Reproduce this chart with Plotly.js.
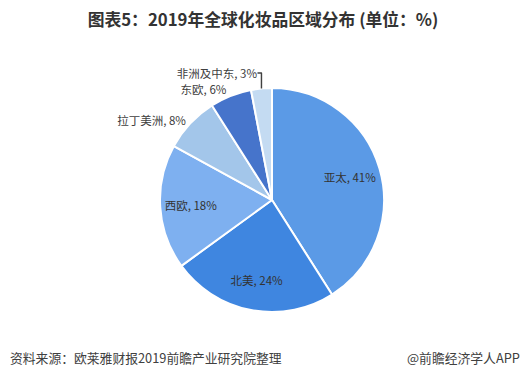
<!DOCTYPE html>
<html><head><meta charset="utf-8">
<script src="https://cdn.plot.ly/plotly-3.0.1.min.js"></script>
<style>body{margin:0;padding:0;background:#fff}#chart{width:526px;height:379px}</style>
</head><body><div id="chart"></div>
<script>
var regions = ["亚太", "北美", "西欧", "拉丁美洲", "东欧", "非洲及中东"];
var shares = [41, 24, 18, 8, 6, 3];
var colors = ["#5b9ae6", "#3f86e0", "#7eb0f0", "#a3c6ea", "#4674cb", "#c4dbf2"];
var outerPos = ["none", "none", "none", "outside", "outside", "outside"];
var innerPos = ["inside", "inside", "inside", "none", "none", "none"];
var titleText = "图表5：2019年全球化妆品区域分布 (单位：%)";
var sourceText = "资料来源：欧莱雅财报2019前瞻产业研究院整理";
var brandText = "@前瞻经济学人APP";
var W = 526, H = 379;
var font = "Noto Sans CJK SC, Microsoft YaHei, sans-serif";
var dom = {x: [160 / W, 384 / W], y: [1 - 312 / H, 1 - 88 / H]};
var base = {
  type: "pie",
  labels: regions,
  values: shares,
  sort: false,
  direction: "clockwise",
  rotation: 0,
  marker: {colors: colors, line: {color: "#ffffff", width: 2}},
  texttemplate: "%{label}, %{value}%",
  textposition: outerPos,
  outsidetextfont: {family: font, size: 11.5, color: "#404040"},
  hoverinfo: "none",
  showlegend: false,
  automargin: false,
  domain: dom
};
var overlay = {
  type: "pie",
  labels: regions,
  values: shares,
  sort: false,
  direction: "clockwise",
  rotation: 0,
  hole: 0.45,
  marker: {colors: colors.map(function(){return "rgba(0,0,0,0)";}), line: {width: 0}},
  texttemplate: "%{label}, %{value}%",
  textposition: innerPos,
  insidetextorientation: "horizontal",
  insidetextfont: {family: font, size: 11.5, color: "#333333"},
  hoverinfo: "none",
  showlegend: false,
  automargin: false,
  domain: dom
};
var layout = {
  width: W, height: H,
  margin: {l: 0, r: 0, t: 0, b: 0},
  paper_bgcolor: "#ffffff",
  font: {family: font},
  title: {text: "<b>" + titleText + "</b>", x: 0.5, xanchor: "center", y: 1 - 20 / H, yanchor: "middle",
          font: {family: font, size: 16.8, color: "#333333"}},
  annotations: [
    {text: sourceText, xref: "paper", yref: "paper", x: 8 / W, y: 1 - 357 / H, xanchor: "left", yanchor: "middle",
     showarrow: false, font: {family: font, size: 12.8, color: "#404040"}},
    {text: brandText, xref: "paper", yref: "paper", x: 522 / W, y: 1 - 357 / H, xanchor: "right", yanchor: "middle",
     showarrow: false, font: {family: font, size: 12.8, color: "#404040"}}
  ]
};
Plotly.newPlot("chart", [base, overlay], layout, {staticPlot: true, displayModeBar: false});
</script></body></html>
